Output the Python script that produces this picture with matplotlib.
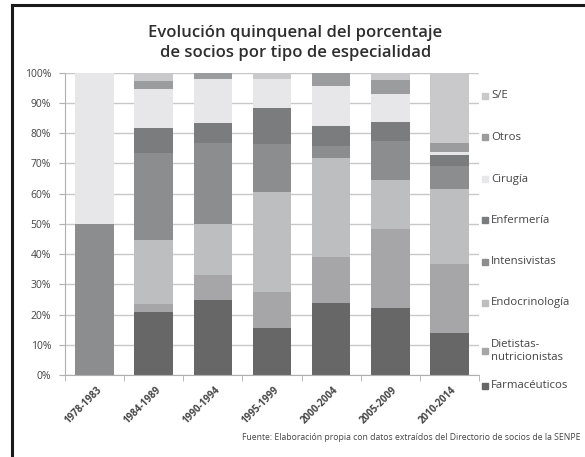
import numpy as np
import matplotlib
matplotlib.use("Agg")
import matplotlib.pyplot as plt
from matplotlib.lines import Line2D
from matplotlib.patches import Rectangle
from matplotlib.transforms import ScaledTranslation

plt.rcParams['font.family'] = ['Open Sans', 'DejaVu Sans']

periodos = ['1978-1983', '1984-1989', '1990-1994', '1995-1999',
            '2000-2004', '2005-2009', '2010-2014']

farmaceuticos = [0, 20.9, 24.9, 15.7, 23.8, 22.2, 13.8]
dietistas = [0, 2.6, 8.2, 11.6, 15.3, 26.0, 22.9]
endocrinologia = [0, 21.0, 16.9, 33.2, 32.6, 16.4, 24.8]
intensivistas = [50, 28.9, 26.7, 15.8, 4.2, 12.8, 7.6]
enfermeria = [0, 8.2, 6.7, 11.9, 6.6, 6.2, 3.8]
cirugia = [50, 13.1, 14.4, 9.7, 13.1, 9.2, 0.7]
otros = [0, 2.6, 2.2, 0, 4.4, 4.7, 3.3]
s_e = [0, 2.6, 0, 2.1, 0, 2.5, 23.2]

series = [
    ('Farmacéuticos', farmaceuticos, '#676767'),
    ('Dietistas-\nnutricionistas', dietistas, '#a6a6a8'),
    ('Endocrinología', endocrinologia, '#bdbec0'),
    ('Intensivistas', intensivistas, '#8c8d8f'),
    ('Enfermería', enfermeria, '#7b7c7e'),
    ('Cirugía', cirugia, '#e7e7e9'),
    ('Otros', otros, '#9b9c9e'),
    ('S/E', s_e, '#c9c9cb'),
]

fig = plt.figure(figsize=(5.85, 4.57), dpi=100)
ax = fig.add_axes([0.111, 0.1794, 0.708, 0.6616])

x = np.arange(len(periodos))
bottom = np.zeros(len(periodos))
for name, vals, col in series:
    ax.bar(x, vals, 0.65, bottom=bottom, color=col, zorder=2)
    bottom += np.array(vals)

ax.set_xlim(-0.5, len(periodos) - 0.5)
ax.set_ylim(0, 100)
ax.set_yticks(np.arange(0, 101, 10))
ax.set_yticklabels([f'{v}%' for v in range(0, 101, 10)], fontsize=7.5, color='#444444')
ax.yaxis.grid(True, color='#c8c8c8', lw=1, zorder=0)
ax.set_xticks(x)
ax.set_xticklabels(periodos, rotation=45, ha='right', rotation_mode='anchor',
                   fontsize=7, fontweight='bold', color='#444444')
ax.tick_params(axis='x', length=0, pad=7)
off = ScaledTranslation(1.5 / 100, 0, fig.dpi_scale_trans)
for lab in ax.get_xticklabels():
    lab.set_transform(lab.get_transform() + off)
ax.set_xticks(np.arange(-0.5, len(periodos), 1), minor=True)
ax.tick_params(axis='x', which='minor', length=4, color='#b0b0b0')
ax.tick_params(axis='y', length=4, color='#b0b0b0', pad=6)
for s in ['top', 'right']:
    ax.spines[s].set_visible(False)
for s in ['left', 'bottom']:
    ax.spines[s].set_color('#b0b0b0')

fig.text(0.505, 0.906, 'Evolución quinquenal del porcentaje\nde socios por tipo de especialidad',
         ha='center', va='center', fontsize=12, fontweight='semibold',
         color='#2e2e2e', linespacing=1.35)

# leyenda manual
ys = [96, 137, 179, 220, 262, 303, 351, 386]
for (name, vals, col), yp in zip(series[::-1], ys):
    fig.patches.append(Rectangle((482 / 585, 1 - (yp + 3) / 457), 6 / 585, 6 / 457,
                                 transform=fig.transFigure, color=col))
    fig.text(491 / 585, 1 - yp / 457, name, ha='left', va='center', fontsize=8.2,
             color='#444444', linespacing=1.3)

fig.text(0.993, 1 - 437 / 457,
         'Fuente: Elaboración propia con datos extraídos del Directorio de socios de la SENPE',
         ha='right', va='center', fontsize=6.2, color='#444444')

# marco
fig.add_artist(Line2D([12 / 585, 1], [1 - 5 / 457, 1 - 5 / 457],
                      transform=fig.transFigure, color='#1a1a1a', lw=2.2))
fig.add_artist(Line2D([12 / 585, 12 / 585], [0, 1 - 5 / 457],
                      transform=fig.transFigure, color='#1a1a1a', lw=2.2))

fig.savefig('out.png', dpi=100, facecolor='white')
